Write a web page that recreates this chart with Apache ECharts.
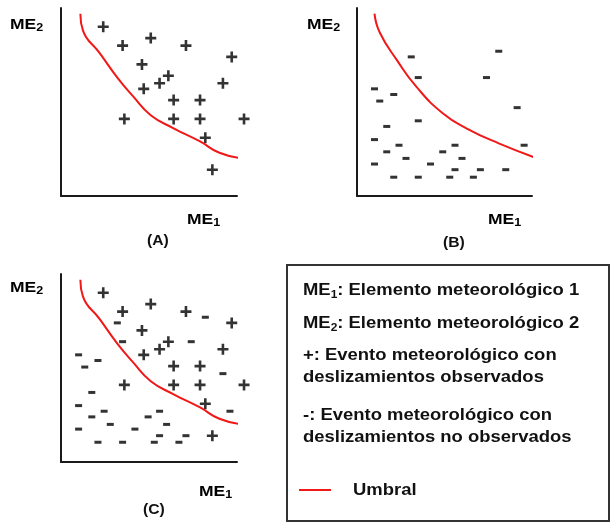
<!DOCTYPE html>
<html>
<head>
<meta charset="utf-8">
<script src="https://cdn.jsdelivr.net/npm/echarts@6/dist/echarts.min.js"></script>
<style>
html,body{margin:0;padding:0;background:#fff;}
#chart{width:612px;height:523px;}
</style>
</head>
<body>
<div id="chart"></div>
<script>
// Events with observed landslides (+), panels A and C
var observedEvents = [[2.4,9.0],[3.5,8.0],[5.1,8.4],[7.1,8.0],[9.7,7.4],[4.6,7.0],[6.1,6.4],[5.6,6.0],[4.7,5.7],[9.2,6.0],[6.4,5.1],[7.9,5.1],[3.6,4.1],[6.4,4.1],[7.9,4.1],[10.4,4.1],[8.2,3.1],[8.6,1.4]];
// Events without observed landslides (-), panel B
var notObservedB = [[3.1,7.4],[8.1,7.7],[3.5,6.3],[7.4,6.3],[1.0,5.7],[2.1,5.4],[1.3,5.05],[9.15,4.7],[3.5,4.0],[1.7,3.7],[1.0,3.0],[2.4,2.7],[5.6,2.7],[9.55,2.7],[1.7,2.35],[4.9,2.35],[2.8,2.0],[6.0,2.0],[1.0,1.7],[4.2,1.7],[5.6,1.4],[7.05,1.4],[8.5,1.4],[2.1,1.0],[3.5,1.0],[5.3,1.0],[6.65,1.0]];
// Events without observed landslides (-), panel C
var notObservedC = [[8.2,7.7],[3.2,7.4],[3.5,6.4],[7.4,6.4],[1.0,5.7],[2.1,5.4],[1.35,5.05],[9.2,4.7],[1.75,3.7],[1.0,3.0],[2.45,2.7],[5.6,2.7],[9.6,2.7],[1.75,2.4],[4.95,2.4],[2.8,2.0],[6.0,2.0],[1.0,1.75],[4.2,1.75],[5.6,1.4],[7.1,1.4],[2.1,1.05],[3.5,1.05],[5.3,1.05],[6.7,1.05]];
// Threshold curves
var thresholdAC = [[1.1,9.7],[1.25,8.8],[2.2,7.6],[3.2,6.3],[4.1,5.3],[5.1,4.3],[6.4,3.6],[7.9,2.9],[9.0,2.3],[10.3,2.0]];
var thresholdB = [[1.0,9.7],[1.3,8.7],[2.3,7.2],[3.4,5.8],[4.9,4.4],[6.25,3.6],[8.1,2.8],[10.3,2.0]];
var panelLetters = ['(A)','(B)','(C)'];
var legendLines = ['ME{s|1}: Elemento meteorológico 1','ME{s|2}: Elemento meteorológico 2','+: Evento meteorológico con','deslizamientos observados','-: Evento meteorológico con','deslizamientos no observados','Umbral'];

var FONT = 'Liberation Sans, Arial, sans-serif';
var PLUS = 'path://M4.2,0H6.8V4.2H11V6.8H6.8V11H4.2V6.8H0V4.2H4.2Z';
var RED = '#f01818';

var grids = [
  {left:61, top:8, width:176, height:188},
  {left:357, top:8, width:175, height:188},
  {left:61, top:274, width:176, height:188}
];
function axis(i){
  return {type:'value', gridIndex:i, min:0, max:10,
    axisLine:{show:true, onZero:false, lineStyle:{color:'#1a1a1a', width:2}},
    axisTick:{show:false}, axisLabel:{show:false}, splitLine:{show:false}};
}
var xAxes = [axis(0),axis(1),axis(2)];
var yAxes = [axis(0),axis(1),axis(2)];

function plusSeries(i, data){
  return {type:'scatter', xAxisIndex:i, yAxisIndex:i, data:data, symbol:PLUS, symbolSize:11,
    itemStyle:{color:'#000'}, clip:false, silent:true};
}
function minusSeries(i, data){
  return {type:'scatter', xAxisIndex:i, yAxisIndex:i, data:data, symbol:'rect', symbolSize:[7,3],
    itemStyle:{color:'#000'}, clip:false, silent:true};
}
function curve(i, data){
  return {type:'line', xAxisIndex:i, yAxisIndex:i, data:data, smooth:0.5, showSymbol:false,
    lineStyle:{color:RED, width:2}, clip:false, silent:true};
}

var labelRich = {
  b:{fontFamily:FONT, fontSize:14, fontWeight:'bold', color:'#111', lineHeight:17},
  s:{fontFamily:FONT, fontSize:10, fontWeight:'bold', color:'#111', lineHeight:17, verticalAlign:'bottom'}
};
function axisLabelText(x, y, n){
  return {type:'text', x:x, y:y, scaleX:1.25, style:{text:'{b|ME}{s|'+n+'}', rich:labelRich, verticalAlign:'middle'}};
}
function letterText(x, y, t){
  return {type:'text', x:x, y:y, scaleX:1.12, style:{text:t, font:'bold 14px '+FONT, fill:'#111', verticalAlign:'middle'}};
}
var legRich = {
  s:{fontFamily:FONT, fontSize:11, fontWeight:'bold', color:'#111', lineHeight:21, verticalAlign:'bottom'}
};
function legText(x, y, t){
  return {type:'text', x:x, y:y, scaleX:1.085, style:{text:t, font:'bold 17px '+FONT, fill:'#111', verticalAlign:'middle', rich:legRich}};
}

var graphics = [
  axisLabelText(10,25,'2'), axisLabelText(187,220,'1'), letterText(147,241,panelLetters[0]),
  axisLabelText(307,25,'2'), axisLabelText(488,220,'1'), letterText(443,243,panelLetters[1]),
  axisLabelText(10,288,'2'), axisLabelText(199,492,'1'), letterText(143,510,panelLetters[2]),
  {type:'rect', shape:{x:287, y:265, width:322, height:256}, style:{fill:'#fff', stroke:'#333', lineWidth:2}, z:-1},
  legText(303,290,legendLines[0]),
  legText(303,323,legendLines[1]),
  legText(303,355,legendLines[2]),
  legText(303,377,legendLines[3]),
  legText(303,415,legendLines[4]),
  legText(303,437,legendLines[5]),
  legText(353,490,legendLines[6]),
  {type:'line', shape:{x1:299, y1:490, x2:331, y2:490}, style:{stroke:RED, lineWidth:2}}
];

var chart = echarts.init(document.getElementById('chart'), null, {renderer:'canvas'});
chart.setOption({
  animation:false,
  backgroundColor:'#fff',
  grid:grids,
  xAxis:xAxes,
  yAxis:yAxes,
  series:[
    curve(0, thresholdAC), plusSeries(0, observedEvents),
    curve(1, thresholdB), minusSeries(1, notObservedB),
    curve(2, thresholdAC), plusSeries(2, observedEvents), minusSeries(2, notObservedC)
  ],
  graphic:graphics
});
</script>
</body>
</html>
